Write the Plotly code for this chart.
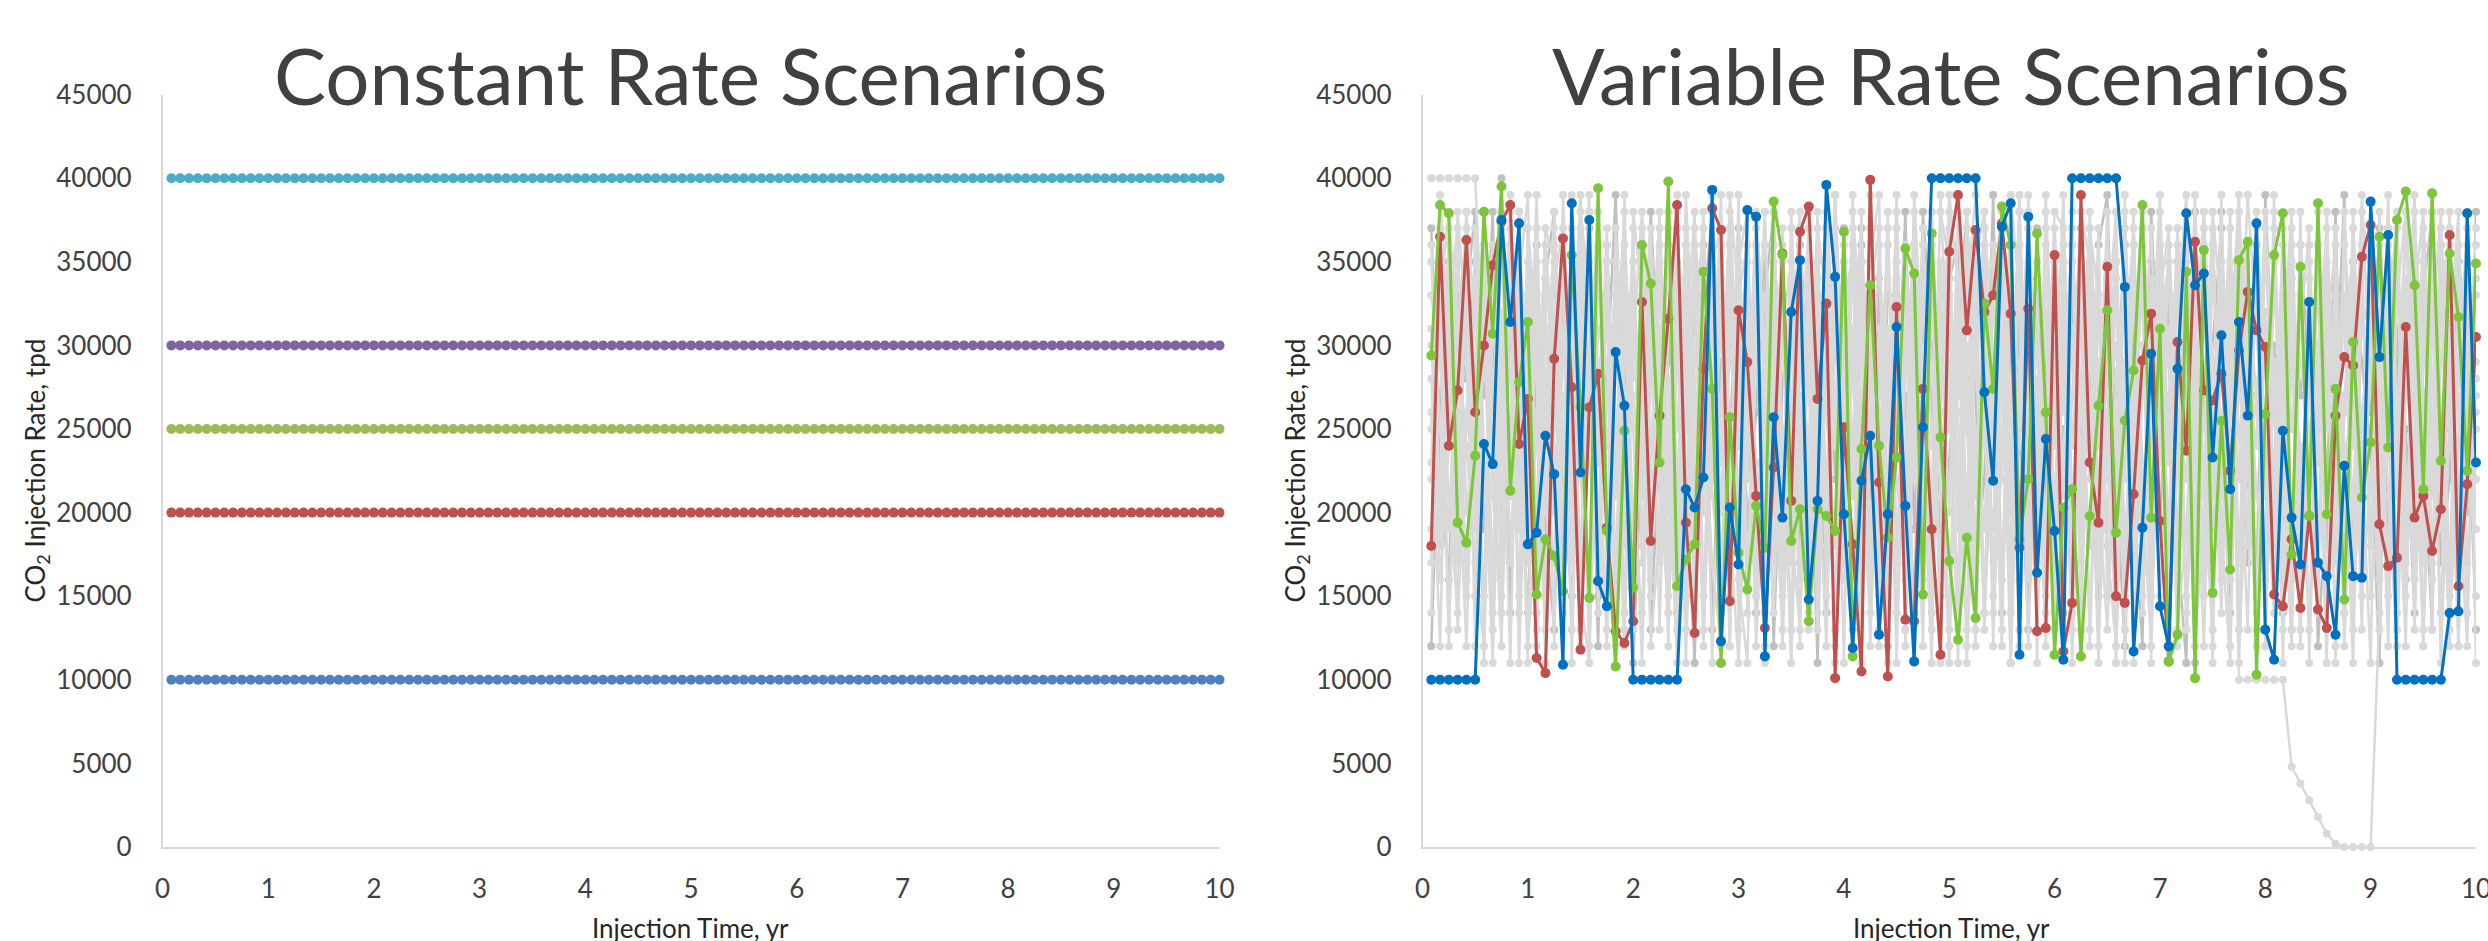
import plotly.graph_objects as go

# ---------------- data ----------------
months = [k / 12 for k in range(1, 121)]          # monthly time grid, yr
x_ticks = list(range(0, 11))

const_rates = [10000, 20000, 25000, 30000, 40000]  # tpd
const_colors = ["#4F81BD", "#C0504D", "#9BBB59", "#8064A2", "#4BACC6"]

# highlighted variable-rate scenarios (thousand tpd)
blue_kt = [10, 10, 10, 10, 10, 10, 24.1, 22.9, 37.5, 31.4, 37.3, 18.1,
           18.8, 24.6, 22.3, 10.9, 38.5, 22.4, 37.5, 15.9, 14.4, 29.6, 26.4, 10,
           10, 10, 10, 10, 10, 21.4, 20.3, 22.1, 39.3, 12.3, 20.3, 16.9,
           38.1, 37.7, 11.4, 25.7, 19.7, 32.0, 35.1, 14.8, 20.7, 39.6, 34.1, 19.9,
           11.9, 21.9, 24.6, 12.7, 19.9, 31.1, 20.4, 11.1, 25.1, 40, 40, 40,
           40, 40, 40, 27.2, 21.9, 37.1, 38.5, 11.5, 37.7, 16.4, 24.4, 18.9,
           11.2, 40, 40, 40, 40, 40, 40, 33.5, 11.7, 19.1, 29.5, 14.4,
           12.0, 28.6, 37.9, 33.6, 34.3, 23.3, 30.6, 21.4, 31.4, 25.8, 37.3, 13.0,
           11.2, 24.9, 19.7, 16.9, 32.6, 17.0, 16.2, 12.7, 22.8, 16.2, 16.1, 38.6,
           29.3, 36.6, 10, 10, 10, 10, 10, 10, 14.0, 14.1, 37.9, 23.0]
red_kt = [18.0, 36.5, 24.0, 27.3, 36.3, 26.0, 30.0, 34.8, 37.4, 38.4, 24.1, 26.8,
          11.3, 10.4, 29.2, 36.4, 27.5, 11.8, 26.3, 28.3, 19.1, 12.9, 12.2, 13.5,
          32.6, 18.3, 25.8, 31.6, 38.4, 19.4, 12.8, 28.6, 38.2, 36.9, 14.7, 32.1,
          29.0, 21.0, 13.1, 22.7, 35.5, 20.7, 36.8, 38.3, 26.8, 32.5, 10.1, 25.1,
          18.1, 10.5, 39.9, 21.8, 10.2, 32.3, 13.6, 13.5, 27.4, 19.0, 11.5, 35.6,
          39.0, 30.9, 36.9, 32.0, 33.0, 37.3, 31.9, 17.9, 32.2, 12.9, 13.1, 35.4,
          11.7, 14.6, 39.0, 23.0, 19.4, 34.7, 15.0, 14.6, 21.1, 29.1, 31.9, 19.5,
          11.1, 30.2, 23.7, 36.2, 27.3, 26.7, 28.3, 22.5, 29.7, 33.2, 30.9, 29.9,
          15.1, 14.4, 18.4, 14.3, 19.8, 14.2, 13.1, 25.8, 29.3, 28.8, 35.3, 37.2,
          19.3, 16.8, 17.3, 31.1, 19.7, 21.0, 17.7, 20.2, 36.6, 15.6, 21.7, 30.5]
green_kt = [29.4, 38.4, 37.9, 19.4, 18.2, 23.4, 38.0, 30.7, 39.5, 21.3, 27.8, 31.4,
            15.1, 18.4, 17.4, 15.3, 35.4, 26.3, 14.9, 39.4, 18.9, 10.8, 24.9, 15.5,
            36.0, 33.7, 23.0, 39.8, 15.6, 17.2, 18.1, 34.4, 27.4, 11.0, 25.7, 17.6,
            15.4, 20.4, 17.9, 38.6, 35.4, 18.3, 20.2, 13.5, 20.2, 19.8, 18.9, 36.8,
            11.4, 23.8, 33.6, 24.0, 18.5, 23.3, 35.8, 34.3, 15.1, 36.7, 24.5, 17.1,
            12.4, 18.5, 13.7, 32.5, 27.4, 38.3, 36.0, 18.4, 22.0, 36.7, 26.0, 11.5,
            20.3, 21.4, 11.4, 19.8, 26.4, 32.1, 18.8, 25.5, 28.5, 38.4, 19.7, 31.0,
            11.1, 12.7, 34.4, 10.1, 35.7, 15.2, 25.5, 16.6, 35.1, 36.2, 10.3, 25.9,
            35.4, 37.9, 17.5, 34.7, 19.8, 38.5, 19.9, 27.4, 14.8, 30.2, 20.9, 24.2,
            36.5, 23.9, 37.5, 39.2, 33.6, 21.4, 39.1, 23.1, 35.5, 31.7, 22.5, 34.9]

# background (grey) variable-rate scenarios (thousand tpd)
grey_dark_1 = [12, 27, 35, 20, 33, 38, 19, 29, 40, 14, 31, 25,
               36, 19, 13, 33, 24, 30, 37, 15, 28, 39, 22, 11,
               24, 38, 27, 35, 14, 18, 33, 36, 13, 29, 24, 37,
               19, 26, 36, 12, 28, 31, 17, 35, 29, 14, 39, 22,
               30, 37, 21, 34, 12, 25, 38, 19, 31, 27, 15, 34,
               36, 28, 17, 22, 39, 14, 31, 25, 13, 37, 20, 30,
               14, 33, 25, 18, 36, 39, 22, 12, 31, 28, 35, 19,
               33, 18, 11, 38, 26, 30, 37, 14, 29, 22, 16, 39,
               26, 14, 34, 27, 32, 12, 21, 38, 17, 35, 29, 24,
               11, 37, 29, 16, 35, 24, 13, 36, 25, 31, 20, 38]
grey_dark_2 = [37, 22, 16, 33, 28, 35, 27, 38, 18, 31, 24, 14,
               29, 34, 38, 21, 15, 27, 33, 12, 36, 22, 30, 17,
               35, 13, 24, 29, 37, 22, 11, 32, 38, 26, 15, 31,
               27, 14, 33, 38, 19, 25, 36, 29, 11, 34, 22, 37,
               13, 36, 24, 19, 33, 31, 27, 14, 38, 30, 18, 23,
               31, 38, 27, 14, 26, 37, 11, 32, 20, 34, 29, 16,
               25, 14, 37, 29, 15, 34, 27, 36, 21, 12, 38, 26,
               18, 35, 27, 11, 33, 24, 38, 19, 31, 17, 36, 29,
               30, 21, 13, 36, 28, 33, 18, 27, 39, 16, 32, 26,
               37, 18, 31, 25, 14, 33, 38, 17, 22, 35, 28, 13]
grey_1 = [40, 40, 40, 40, 40, 40, 28, 35, 17, 39, 22, 31,
          14, 26, 37, 19, 33, 12, 29, 38, 21, 16, 34, 25,
          11, 30, 23, 36, 18, 39, 27, 13, 32, 20, 35, 24,
          38, 15, 28, 33, 12, 26, 37, 19, 31, 22, 14, 36,
          29, 17, 39, 24, 11, 34, 21, 30, 16, 38, 25, 13,
          33, 20, 36, 27, 15, 31, 23, 39, 18, 28, 12, 35,
          26, 37, 14, 32, 21, 30, 11, 38, 24, 17, 34, 29,
          19, 36, 13, 27, 33, 22, 39, 16, 31, 25, 12, 37,
          28, 20, 35, 15, 30, 23, 38, 11, 26, 34, 18, 32,
          24, 39, 14, 29, 21, 36, 17, 33, 27, 12, 31, 22]
grey_2 = [31, 18, 36, 24, 12, 29, 38, 21, 15, 33, 27, 11,
          35, 22, 17, 39, 26, 13, 30, 24, 37, 16, 32, 20,
          14, 28, 38, 23, 11, 34, 19, 31, 26, 36, 12, 29,
          22, 37, 16, 30, 25, 13, 35, 20, 33, 18, 39, 27,
          12, 31, 24, 36, 15, 28, 21, 38, 17, 32, 26, 11,
          34, 19, 29, 37, 14, 23, 33, 16, 39, 25, 20, 30,
          13, 36, 27, 18, 32, 22, 38, 11, 28, 35, 15, 24,
          31, 17, 37, 26, 12, 30, 21, 34, 10, 10, 10, 10,
          10, 10, 4.8, 3.8, 2.8, 1.8, 0.8, 0.2, 0, 0, 0, 0,
          14, 27, 35, 19, 31, 12, 38, 24, 17, 33, 22, 29]
grey_3 = [22, 34, 13, 27, 38, 19, 31, 16, 25, 36, 11, 29,
          37, 20, 32, 14, 28, 39, 23, 17, 35, 26, 12, 33,
          18, 29, 36, 21, 39, 15, 24, 33, 11, 27, 37, 20,
          31, 12, 25, 38, 18, 34, 22, 29, 14, 36, 27, 16,
          39, 23, 30, 13, 26, 37, 19, 32, 24, 11, 35, 28,
          15, 38, 21, 33, 27, 12, 36, 20, 30, 17, 39, 24,
          32, 14, 26, 37, 19, 29, 35, 13, 23, 38, 21, 31,
          11, 28, 34, 18, 36, 25, 14, 30, 39, 22, 27, 16,
          37, 24, 12, 33, 20, 35, 29, 17, 38, 13, 26, 31,
          21, 36, 27, 15, 32, 19, 39, 25, 12, 34, 23, 28]
grey_4 = [35, 25, 19, 32, 15, 37, 24, 11, 30, 21, 38, 17,
          26, 33, 12, 36, 20, 29, 39, 14, 27, 31, 18, 35,
          23, 16, 34, 28, 13, 37, 21, 30, 25, 39, 17, 32,
          14, 36, 27, 20, 33, 11, 29, 24, 38, 15, 31, 22,
          28, 35, 16, 30, 21, 39, 13, 25, 34, 19, 27, 37,
          20, 29, 12, 36, 24, 31, 17, 38, 22, 33, 14, 26,
          39, 18, 32, 23, 37, 15, 28, 34, 11, 30, 24, 36,
          16, 33, 25, 39, 21, 13, 31, 27, 35, 18, 38, 12,
          29, 22, 36, 17, 34, 26, 11, 37, 19, 32, 25, 30,
          13, 31, 38, 22, 16, 35, 28, 20, 36, 14, 33, 26]
grey_5 = [14, 37, 28, 21, 35, 12, 33, 26, 38, 17, 30, 23,
          39, 15, 27, 34, 19, 31, 11, 36, 24, 29, 38, 13,
          32, 22, 37, 17, 30, 25, 36, 12, 28, 34, 20, 39,
          16, 29, 33, 24, 37, 19, 13, 32, 26, 35, 11, 30,
          23, 38, 18, 31, 27, 14, 36, 22, 33, 29, 16, 38,
          34, 11, 25, 19, 32, 37, 26, 13, 35, 21, 31, 17,
          24, 30, 36, 12, 28, 33, 20, 39, 16, 27, 37, 23,
          35, 13, 19, 31, 25, 38, 17, 29, 22, 36, 14, 32,
          18, 36, 28, 24, 13, 30, 37, 21, 33, 16, 39, 27,
          32, 15, 23, 37, 26, 12, 34, 19, 30, 38, 17, 25]
grey_6 = [26, 12, 33, 37, 20, 24, 15, 36, 29, 11, 34, 39,
          18, 31, 23, 27, 13, 35, 26, 38, 16, 32, 21, 14,
          37, 19, 29, 12, 35, 26, 33, 20, 39, 15, 30, 24,
          27, 34, 11, 36, 22, 29, 38, 17, 25, 31, 13, 33,
          35, 14, 28, 21, 38, 17, 31, 26, 12, 36, 23, 29,
          11, 33, 39, 24, 19, 35, 14, 29, 37, 25, 32, 20,
          36, 21, 13, 30, 24, 38, 17, 26, 33, 14, 28, 39,
          23, 37, 30, 15, 34, 19, 26, 12, 36, 31, 21, 18,
          39, 11, 33, 29, 25, 17, 31, 36, 14, 28, 22, 35,
          16, 33, 24, 12, 38, 27, 21, 35, 15, 29, 37, 11]
grey_7 = [33, 29, 21, 14, 38, 31, 36, 23, 12, 34, 27, 19,
          24, 37, 35, 11, 39, 22, 17, 31, 29, 13, 36, 28,
          30, 12, 19, 38, 25, 33, 14, 37, 22, 31, 26, 16,
          11, 32, 36, 29, 15, 38, 24, 13, 35, 21, 37, 25,
          17, 26, 35, 39, 13, 29, 34, 11, 37, 24, 31, 20,
          38, 25, 16, 31, 36, 22, 39, 33, 12, 27, 18, 34,
          29, 35, 22, 27, 11, 31, 38, 15, 36, 21, 12, 33,
          37, 24, 15, 34, 29, 11, 35, 20, 27, 39, 31, 23,
          14, 30, 38, 20, 27, 36, 15, 32, 24, 11, 35, 18,
          35, 26, 13, 31, 23, 37, 16, 29, 38, 21, 12, 34]
grey_8 = [19, 33, 38, 30, 24, 17, 12, 34, 36, 28, 15, 37,
          31, 11, 25, 35, 22, 38, 33, 20, 13, 37, 27, 19,
          28, 35, 13, 31, 38, 20, 36, 26, 17, 12, 39, 33,
          36, 19, 24, 14, 31, 35, 12, 38, 21, 29, 33, 11,
          38, 31, 12, 27, 36, 22, 17, 39, 29, 14, 33, 25,
          27, 37, 31, 13, 29, 16, 34, 24, 38, 11, 36, 29,
          17, 27, 38, 35, 21, 13, 25, 33, 19, 37, 30, 15,
          27, 32, 39, 12, 20, 34, 28, 37, 11, 25, 34, 30,
          35, 25, 16, 38, 11, 28, 33, 24, 36, 30, 13, 37,
          27, 12, 35, 28, 39, 17, 33, 11, 26, 36, 29, 15]
grey_9 = [28, 16, 24, 38, 31, 21, 35, 13, 27, 37, 33, 12,
          20, 36, 29, 24, 37, 15, 11, 34, 32, 25, 14, 38,
          33, 24, 31, 15, 21, 36, 28, 13, 35, 37, 19, 11,
          25, 38, 30, 17, 35, 24, 27, 14, 37, 33, 12, 20,
          31, 19, 37, 15, 29, 33, 12, 36, 27, 21, 38, 35,
          22, 13, 33, 36, 12, 29, 20, 35, 27, 16, 38, 14,
          35, 11, 28, 37, 33, 18, 12, 29, 36, 23, 17, 38,
          12, 29, 36, 22, 38, 27, 16, 33, 25, 13, 37, 30,
          22, 37, 29, 12, 36, 19, 27, 33, 14, 38, 23, 11,
          38, 24, 18, 34, 13, 29, 36, 22, 31, 17, 27, 36]
grey_10 = [23, 39, 30, 13, 26, 33, 21, 17, 32, 24, 36, 29,
           16, 28, 34, 37, 11, 33, 24, 29, 19, 35, 13, 30,
           38, 30, 17, 24, 33, 11, 29, 38, 21, 16, 31, 26,
           33, 21, 14, 27, 36, 17, 31, 22, 34, 26, 18, 35,
           24, 11, 33, 37, 20, 26, 35, 30, 15, 38, 21, 12,
           29, 35, 22, 31, 17, 24, 37, 12, 34, 29, 25, 38,
           37, 24, 32, 13, 29, 22, 35, 18, 27, 33, 11, 36,
           29, 12, 33, 27, 17, 36, 23, 38, 13, 30, 35, 21,
           33, 27, 37, 18, 23, 35, 13, 29, 31, 20, 36, 15,
           20, 34, 25, 38, 29, 13, 24, 32, 37, 12, 36, 19]
grey_11 = [30, 21, 37, 26, 16, 34, 11, 32, 23, 38, 19, 35,
           13, 26, 20, 29, 35, 24, 38, 18, 33, 12, 31, 27,
           21, 34, 26, 37, 17, 30, 38, 15, 24, 33, 12, 35,
           38, 17, 31, 23, 13, 37, 20, 33, 16, 38, 30, 26,
           15, 33, 27, 12, 37, 18, 24, 33, 20, 35, 26, 39,
           34, 18, 13, 27, 33, 38, 21, 36, 16, 24, 13, 35,
           21, 38, 17, 34, 12, 26, 30, 22, 38, 15, 33, 24,
           36, 26, 22, 33, 15, 37, 19, 11, 34, 28, 24, 38,
           20, 33, 25, 31, 37, 14, 38, 22, 27, 33, 19, 29,
           36, 21, 12, 27, 33, 38, 25, 14, 33, 29, 22, 37]
grey_12 = [17, 35, 26, 31, 37, 22, 29, 36, 14, 25, 38, 20,
           33, 24, 36, 17, 29, 37, 12, 27, 35, 21, 39, 16,
           30, 37, 22, 14, 29, 34, 19, 27, 33, 23, 36, 13,
           29, 35, 18, 32, 25, 11, 34, 27, 20, 37, 24, 31,
           36, 22, 14, 30, 25, 35, 16, 27, 36, 13, 29, 32,
           19, 27, 36, 14, 35, 30, 11, 28, 33, 22, 37, 17,
           33, 29, 20, 38, 26, 19, 34, 13, 25, 36, 22, 29,
           24, 37, 14, 30, 38, 21, 29, 35, 17, 26, 33, 12,
           38, 16, 30, 13, 35, 27, 33, 19, 26, 37, 15, 22,
           29, 37, 21, 33, 18, 26, 31, 38, 13, 24, 35, 27]
grey_13 = [25, 31, 12, 35, 29, 15, 38, 27, 21, 33, 14, 37,
           28, 13, 38, 23, 31, 17, 35, 26, 12, 33, 24, 37,
           17, 33, 28, 35, 22, 13, 37, 30, 26, 14, 33, 19,
           35, 28, 38, 21, 16, 33, 29, 37, 24, 12, 31, 28,
           21, 35, 30, 26, 17, 38, 13, 31, 23, 36, 11, 33,
           26, 12, 35, 38, 29, 13, 37, 19, 26, 35, 27, 13,
           30, 13, 35, 22, 33, 28, 16, 37, 24, 35, 19, 31,
           35, 27, 30, 19, 37, 12, 33, 25, 38, 29, 13, 26,
           33, 29, 13, 36, 20, 38, 25, 31, 12, 27, 38, 34,
           22, 29, 37, 17, 31, 35, 13, 36, 24, 27, 14, 33]
grey_14 = [36, 20, 31, 17, 25, 28, 34, 14, 37, 21, 29, 33,
           12, 35, 27, 31, 17, 26, 38, 23, 36, 14, 29, 32,
           26, 15, 35, 20, 37, 29, 16, 34, 31, 25, 38, 27,
           33, 23, 12, 35, 31, 27, 16, 37, 13, 29, 35, 21,
           37, 26, 33, 17, 31, 11, 29, 36, 25, 17, 39, 27,
           13, 30, 18, 35, 24, 33, 26, 38, 21, 31, 15, 37,
           28, 36, 23, 31, 16, 35, 11, 29, 37, 18, 32, 27,
           13, 23, 35, 29, 21, 38, 32, 24, 17, 33, 27, 35,
           27, 13, 36, 21, 30, 25, 35, 12, 38, 24, 31, 33,
           26, 17, 33, 38, 21, 31, 24, 37, 29, 18, 38, 23]

grey_dark_series = [grey_dark_1, grey_dark_2]
grey_series = [grey_1, grey_2, grey_3, grey_4, grey_5, grey_6, grey_7,
               grey_8, grey_9, grey_10, grey_11, grey_12, grey_13, grey_14]
highlight_series = [red_kt, green_kt, blue_kt]
highlight_colors = ["#C0504D", "#7CC63A", "#0070C0"]

# ---------------- styling ----------------
FONT = "Lato"
AX_GREY = "#D9D9D9"
TXT = "#404040"

fig = go.Figure()

for rate, col in zip(const_rates, const_colors):
    fig.add_trace(go.Scatter(
        x=months, y=[rate] * len(months), mode="lines+markers",
        line=dict(color=col, width=3), marker=dict(size=10, color=col),
        xaxis="x", yaxis="y", showlegend=False, cliponaxis=False))

def kt_to_tpd(vals):
    return [v * 1000 for v in vals]

for s in grey_dark_series:
    fig.add_trace(go.Scatter(
        x=months, y=kt_to_tpd(s), mode="lines+markers",
        line=dict(color="#BFBFBF", width=2.5), marker=dict(size=8, color="#BFBFBF"),
        xaxis="x2", yaxis="y2", showlegend=False, cliponaxis=False))
for s in grey_series:
    fig.add_trace(go.Scatter(
        x=months, y=kt_to_tpd(s), mode="lines+markers",
        line=dict(color="#D9D9D9", width=2.5), marker=dict(size=8, color="#D9D9D9"),
        xaxis="x2", yaxis="y2", showlegend=False, cliponaxis=False))
for s, col in zip(highlight_series, highlight_colors):
    fig.add_trace(go.Scatter(
        x=months, y=kt_to_tpd(s), mode="lines+markers",
        line=dict(color=col, width=3), marker=dict(size=10, color=col),
        xaxis="x2", yaxis="y2", showlegend=False, cliponaxis=False))

xdom_l = [162.6 / 2488, 1219.5 / 2488]
xdom_r = [1422.5 / 2488, 2476.0 / 2488]
ydom = [94.0 / 941, (941 - 94.6) / 941]

axis_common = dict(showline=True, linecolor=AX_GREY, linewidth=1.5, showgrid=False,
                   zeroline=False, ticks="", automargin=False, ticklabeloverflow="allow",
                   tickfont=dict(family=FONT, size=26, color=TXT))

fig.update_layout(
    width=2488, height=941,
    margin=dict(l=0, r=0, t=0, b=0, autoexpand=False),
    paper_bgcolor="white", plot_bgcolor="white",
    showlegend=False,
    xaxis=dict(domain=xdom_l, range=[0, 10], tickvals=x_ticks, anchor="y",
               ticklabelstandoff=18, **axis_common),
    yaxis=dict(domain=ydom, range=[0, 45000], dtick=5000, tickformat="d", anchor="x",
               ticklabelstandoff=24, **axis_common),
    xaxis2=dict(domain=xdom_r, range=[0, 10], tickvals=x_ticks, anchor="y2",
                ticklabelstandoff=18, **axis_common),
    yaxis2=dict(domain=ydom, range=[0, 45000], dtick=5000, tickformat="d", anchor="x2",
                ticklabelstandoff=24, **axis_common),
)

titles = [("Constant Rate Scenarios", 691), ("Variable Rate Scenarios", 1951)]
for text, cx in titles:
    fig.add_annotation(text=text, x=cx / 2488, y=1 - 75 / 941, xref="paper", yref="paper",
                       xanchor="center", yanchor="middle", showarrow=False,
                       font=dict(family=FONT, size=78, color=TXT))
for cx in [691, 1951]:
    fig.add_annotation(text="Injection Time, yr", x=cx / 2488, y=1 - 910 / 941,
                       xref="paper", yref="paper", xanchor="center", yanchor="top",
                       showarrow=False, font=dict(family=FONT, size=26, color="#262626"))
for cx in [36, 1296]:
    fig.add_annotation(text="CO<sub>2</sub> Injection Rate, tpd", x=cx / 2488, y=0.5,
                       xref="paper", yref="paper", xanchor="center", yanchor="middle",
                       textangle=-90, showarrow=False,
                       font=dict(family=FONT, size=26, color="#262626"))

fig.write_html("out.html")
